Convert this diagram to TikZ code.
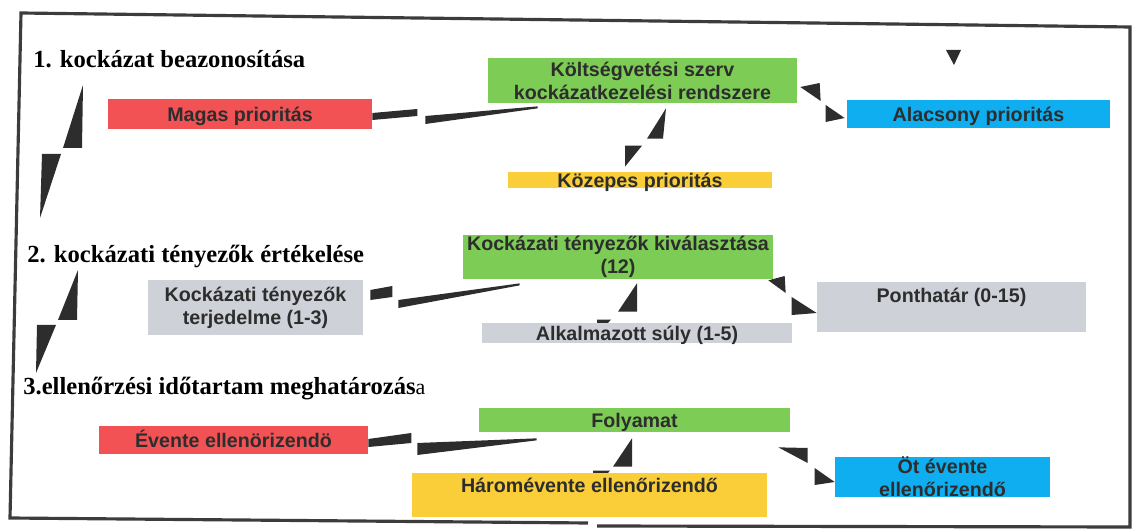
\documentclass[tikz,border=0pt]{standalone}
\usepackage{fontspec}
\setmainfont{Liberation Serif}
\setsansfont{Liberation Sans}
\usetikzlibrary{calc,backgrounds}
\definecolor{zold}{RGB}{125,204,85}
\definecolor{piros}{RGB}{242,82,84}
\definecolor{kek}{RGB}{14,174,240}
\definecolor{sarga}{RGB}{250,206,56}
\definecolor{szurke}{RGB}{206,209,215}
\definecolor{sotet}{RGB}{45,45,45}
\definecolor{keret}{RGB}{60,60,60}

\begin{document}
\begin{tikzpicture}[x=0.02cm, y=-0.02cm, box node/.style={rectangle,inner sep=0pt,align=center,text=sotet,font=\sffamily\bfseries\fontsize{11.2}{13.1}\selectfont}, one line/.style={text height=8pt,text depth=0pt}, step node/.style={anchor=base west,inner sep=0pt,text=black,font=\bfseries\fontsize{14}{16}\selectfont}, piece/.style={fill=sotet}]
\useasboundingbox (0,0) rectangle (1134,530);
\draw[keret, line width=1.8pt] (597,526) -- (1130,527) -- (1130,27) -- (21,13) -- (10,518) -- (588,523);

\node[step node] (s1) at (33,68) {1. kockázat beazonosítása};
\node[step node] (s2) at (27,263) {2. kockázati tényezők értékelése};
\node[step node] (s3) at (23,395) {3.ellenőrzési időtartam meghatározás{\mdseries\fontsize{12.5}{15}\selectfont a}};

% 1. szint
\node[box node, fill=zold, minimum width=6.18cm, minimum height=0.9cm] (ksz) at (642.5,80.5) {Költségvetési szerv\\kockázatkezelési rendszere};
\node[box node, one line, fill=piros, minimum width=5.28cm, minimum height=0.6cm] (mag) at (240,114) {Magas prioritás};
\node[box node, one line, fill=kek, minimum width=5.26cm, minimum height=0.56cm] (ala) at (978.5,114) {Alacsony prioritás};
\node[box node, one line, fill=sarga, minimum width=5.28cm, minimum height=0.32cm] (koz) at (640,180) {Közepes prioritás};

% 2. szint
\node[box node, fill=zold, minimum width=6.2cm, minimum height=0.88cm] (kiv) at (618,257) {Kockázati tényezők kiválasztása\\(12)};
\node[box node, fill=szurke, minimum width=4.3cm, minimum height=1.1cm] (ter) at (255.5,307.5) {Kockázati tényezők\\terjedelme (1-3)};
\node[box node, one line, fill=szurke, minimum width=6.2cm, minimum height=0.4cm] (suly) at (637,333) {Alkalmazott súly (1-5)};
\node[box node, fill=szurke, text height=8pt, text depth=13.6pt, minimum width=5.38cm, minimum height=1cm] (pont) at (951.5,307) {Ponthatár (0-15)};

% 3. szint
\node[box node, one line, fill=zold, minimum width=6.22cm, minimum height=0.48cm] (fol) at (634.5,420) {Folyamat};
\node[box node, one line, fill=piros, minimum width=5.38cm, minimum height=0.56cm] (eve) at (233.5,440) {Évente ellenörizendö};
\node[box node, fill=sarga, text height=8pt, text depth=11.4pt, minimum width=7.1cm, minimum height=0.88cm] (har) at (589.5,495) {Háromévente ellenőrizendő};
\node[box node, fill=kek, minimum width=4.3cm, minimum height=0.8cm] (ot) at (942.5,477) {Öt évente\\ellenőrizendő};

\begin{scope}[on background layer]
\fill[piece] ($(s1.base west)+(50,17)$) -- ($(s1.base west)+(49,80)$) -- ($(s1.base west)+(30,80)$) -- cycle;
\fill[piece] ($(s2.base west)+(15,-109)$) -- ($(s2.base west)+(34,-109)$) -- ($(s2.base west)+(13,-45)$) -- cycle;
\fill[piece] ($(s2.base west)+(51,7)$) -- ($(s2.base west)+(50,57)$) -- ($(s2.base west)+(31,57)$) -- cycle;
\fill[piece] ($(s3.base west)+(14,-70)$) -- ($(s3.base west)+(33,-70)$) -- ($(s3.base west)+(13,-22)$) -- cycle;
%\fill[piece] () -- () -- () -- cycle;

\fill[piece] ($(ksz.south west)+(50,3)$) -- ($(mag.east)+(53,2)$) -- ($(mag.east)+(53,10)$) -- ($(ksz.south west)+(50,5)$) -- cycle;
\fill[piece] ($(mag.east)+(0,-1)$) -- ($(mag.east)+(45,-5)$) -- ($(mag.east)+(45,2)$) -- ($(mag.east)+(0,6)$) -- cycle;
\fill[piece] ($(ksz.south)+(23.5,5)$) -- ($(koz.north)+(23,-33)$) -- ($(koz.north)+(7,-33)$) -- cycle;
\fill[piece] ($(koz.north)+(-15,-26)$) -- ($(koz.north)+(2,-26)$) -- ($(koz.north)+(-15,-5)$) -- cycle;
\fill[piece] ($(ksz.east)+(3,6.5)$) -- ($(ala.west)+(-27,-31)$) -- ($(ala.west)+(-26,-13)$) -- cycle;
\fill[piece] ($(ala.west)+(-21,-9)$) -- ($(ala.west)+(-2,4)$) -- ($(ala.west)+(-21,8)$) -- cycle;
\fill[piece] (946,50) -- (961,50) -- (954,65) -- cycle;

\fill[piece] ($(kiv.south west)+(57,4)$) -- ($(ter.east)+(35,-7.5)$) -- ($(ter.east)+(35,0.5)$) -- ($(kiv.south west)+(57,6)$) -- cycle;
\fill[piece] ($(ter.east)+(7,-17.5)$) -- ($(ter.east)+(29,-21.5)$) -- ($(ter.east)+(29,-10.5)$) -- ($(ter.east)+(7,-7.5)$) -- cycle;
\fill[piece] ($(kiv.south)+(19,4)$) -- ($(suly.north)+(0,-11)$) -- ($(suly.north)+(-19,-11)$) -- cycle;
\fill[piece] ($(suly.north)+(-40,-3)$) -- ($(suly.north)+(-26,-3)$) -- ($(suly.north)+(-40,12)$) -- cycle;
\fill[piece] ($(kiv.south east)+(-5,1)$) -- ($(pont.west)+(-32,-31)$) -- ($(pont.west)+(-31,-14)$) -- cycle;
\fill[piece] ($(pont.west)+(-25,-10)$) -- ($(pont.west)+(0,6)$) -- ($(pont.west)+(-25,8)$) -- cycle;

\fill[piece] ($(fol.south west)+(58,6)$) -- ($(eve.east)+(49,3)$) -- ($(eve.east)+(49,15)$) -- ($(fol.south west)+(58,8)$) -- cycle;
\fill[piece] ($(eve.east)+(0,-1)$) -- ($(eve.east)+(43,-7)$) -- ($(eve.east)+(43,3)$) -- ($(eve.east)+(0,7)$) -- cycle;
\fill[piece] ($(fol.south)+(-2.5,6)$) -- ($(har.north)+(42.5,-6)$) -- ($(har.north)+(23.5,-6)$) -- cycle;
\fill[piece] ($(har.north)+(3.5,-2)$) -- ($(har.north)+(20.5,-2)$) -- ($(har.north)+(3.5,17)$) -- cycle;
\fill[piece] ($(fol.south east)+(-12,15)$) -- ($(ot.west)+(-27,-29)$) -- ($(ot.west)+(-27,-14)$) -- cycle;
\fill[piece] ($(ot.west)+(-20,-9)$) -- ($(ot.west)+(0,5)$) -- ($(ot.west)+(-20,8)$) -- cycle;
\end{scope}
\end{tikzpicture}
\end{document}
